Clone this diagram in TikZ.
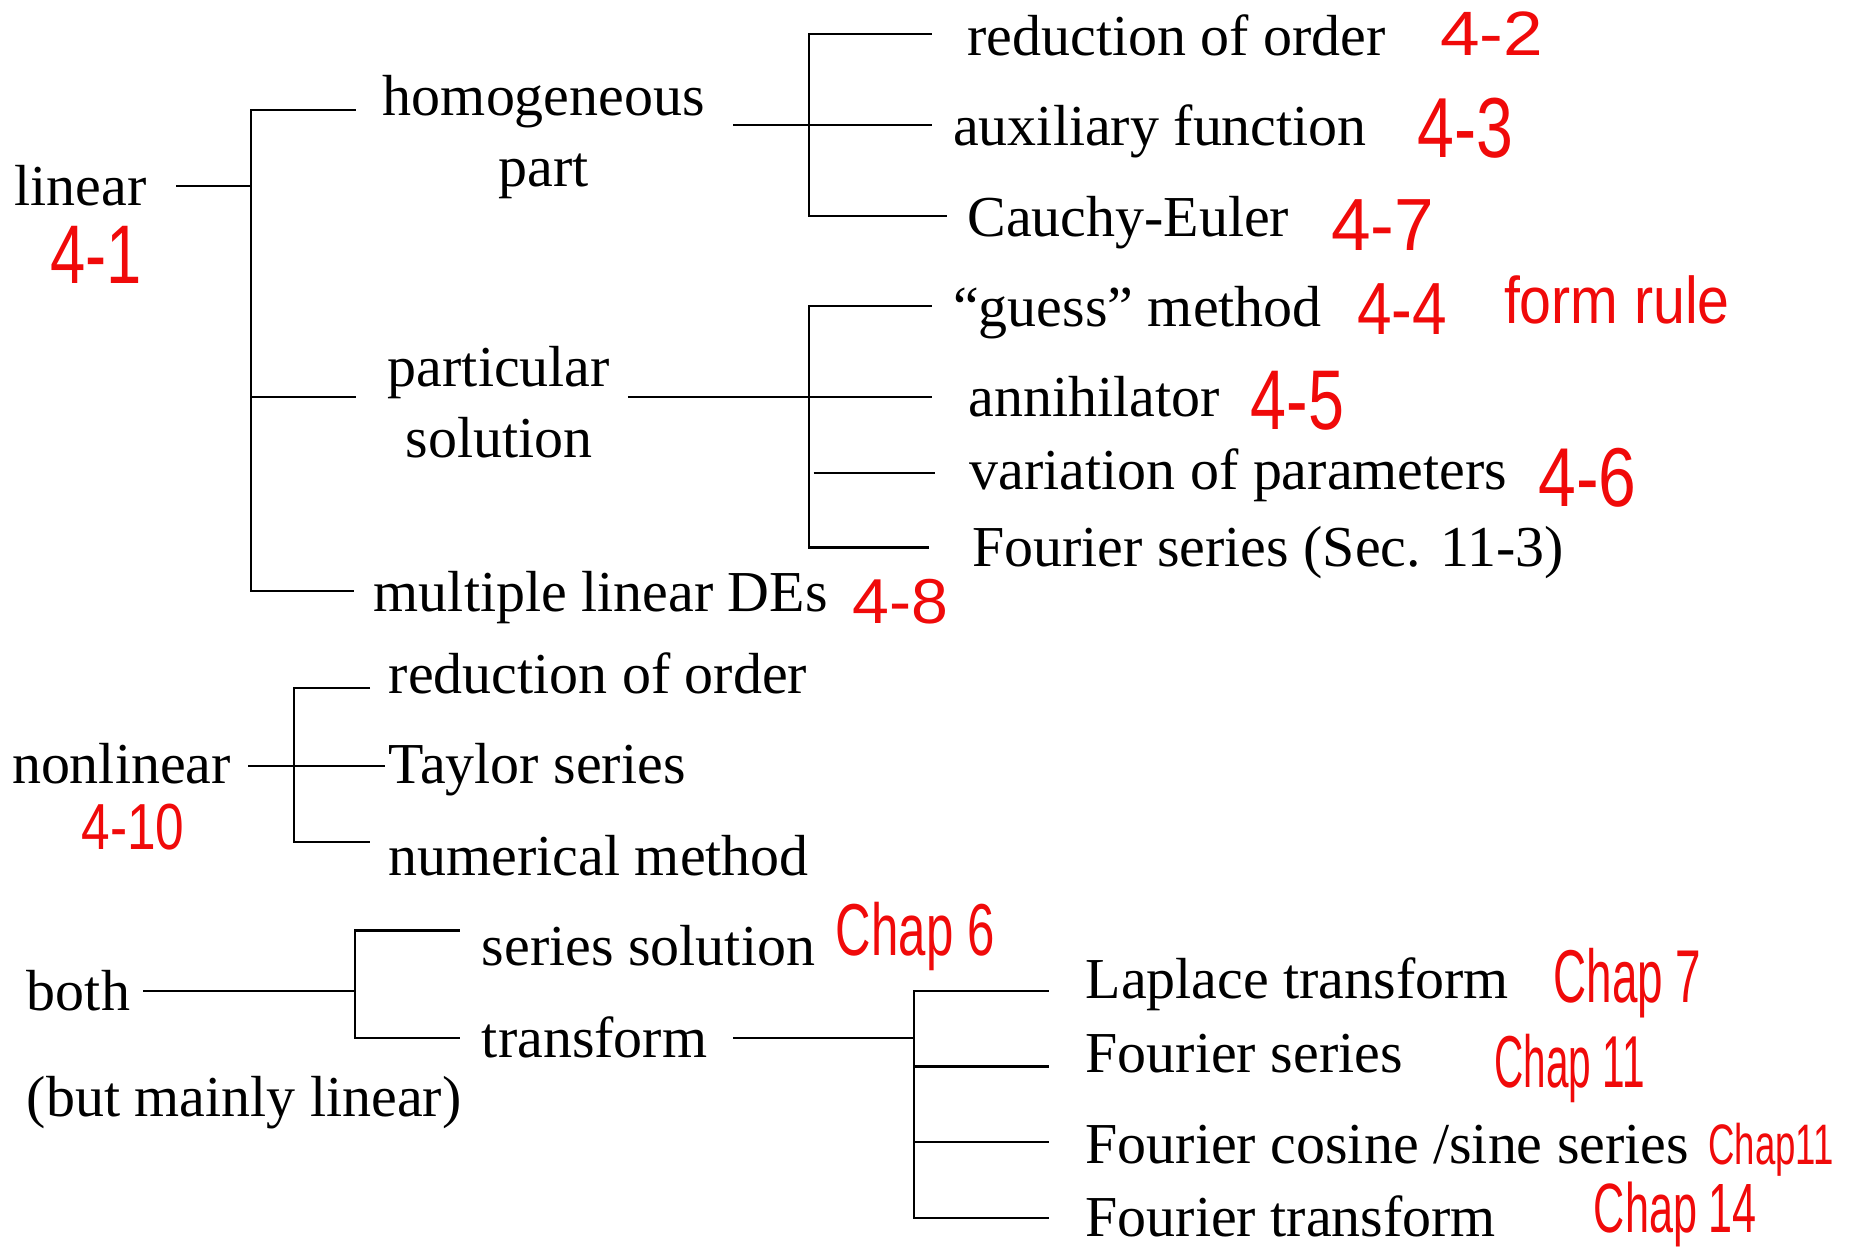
\documentclass[tikz,border=0pt]{standalone}
\usepackage{fontspec}
\usepackage{graphicx}
\setmainfont{Liberation Serif}
\newfontfamily\penfont{Liberation Sans}
\definecolor{pen}{RGB}{240,10,10}
\tikzset{
  lbl/.style={anchor=base west, inner sep=0pt, font=\fontsize{49}{59}\selectfont},
  twoline/.style={anchor=base, inner sep=0pt, align=center, font=\fontsize{49}{59.5}\selectfont},
  note/.style={inner sep=0pt, text=pen},
  branch/.style={line width=1.8pt, black},
}
% name, x-left, x-right, y-top, y-bottom, text
\newcommand\penmark[6]{%
  \node[note] (#1) at ({(#2+#3)/2},{(#4+#5)/2})
    {\resizebox*{\dimexpr #3pt - #2pt\relax}{\dimexpr #5pt - #4pt\relax}{\penfont\fontsize{50}{50}\selectfont #6}};}
\begin{document}
\begin{tikzpicture}[x=1pt,y=-1pt]
\useasboundingbox[fill=white] (0,0) rectangle (1568,1055);

% ---------- texts ----------
\node[lbl] (linear) at (12,174) {linear};
\node[twoline] (hom) at (460,157.5) {homogeneous\\part};
\node[twoline] (part) at (422,386.5) {particular\\solution};
\node[lbl] (multi) at (316,517) {multiple linear DEs};

\node[lbl] (red1) at (818,46.6) {reduction of order};
\node[lbl] (aux) at (806,123) {auxiliary function};
\node[lbl] (cauchy) at (818,200) {Cauchy-Euler};
\node[lbl] (guess) at (806,276) {“guess” method};
\node[lbl] (annih) at (819,352) {annihilator};
\node[lbl] (varpar) at (820,414) {variation of parameters};
\node[lbl] (fser1) at (822,479) {Fourier series (Sec. 11-3)};

\node[lbl] (nonlin) at (10,663) {nonlinear};
\node[lbl] (red2) at (328.6,586.4) {reduction of order};
\node[lbl] (taylor) at (328.6,663) {Taylor series};
\node[lbl] (numer) at (328.6,740.5) {numerical method};

\node[lbl] (both) at (22.6,855) {both};
\node[lbl] (bothnote) at (22.6,944) {(but mainly linear)};
\node[lbl] (series) at (407.4,816.4) {series solution};
\node[lbl] (transf) at (407.4,894.3) {transform};
\node[lbl] (laplace) at (918,844.5) {Laplace transform};
\node[lbl] (fser2) at (918,907) {Fourier series};
\node[lbl] (fcos) at (918,984.4) {Fourier cosine /sine series};
\node[lbl] (ftr) at (918,1046) {Fourier transform};

% ---------- red notes ----------
\penmark{n41}{42.6}{120}{191.6}{240}{4-1}
\penmark{n42}{1218}{1305}{10}{47}{4-2}
\penmark{n43}{1199}{1280}{83}{134}{4-3}
\penmark{n47}{1126}{1213}{169}{212}{4-7}
\penmark{n44}{1148}{1224}{240}{283}{4-4}
\penmark{nform}{1272}{1463}{233}{274}{form rule}
\penmark{n45}{1058}{1137}{314}{364}{4-5}
\penmark{n46}{1301}{1384}{379}{429}{4-6}
\penmark{n48}{721}{802}{490}{528}{4-8}
\penmark{n410}{69}{156}{680}{719}{4-10}
\penmark{c6}{707}{841}{763}{821}{Chap 6}
\penmark{c7}{1314}{1439}{802}{861}{Chap 7}
\penmark{c11a}{1264}{1391}{875}{933}{Chap 11}
\penmark{c11b}{1445}{1551}{950}{995}{Chap11}
\penmark{c14}{1348}{1486}{1000}{1055}{Chap 14}

% ---------- linear tree ----------
\coordinate (a0) at (149,157);
\coordinate (a1) at (212,157);
\coordinate (aT) at (212,93);
\coordinate (aM) at (212,336);
\coordinate (aB) at (212,500);
\coordinate (a2) at (301,93);
\coordinate (a3) at (301,336);
\coordinate (a4) at (299,500);
\draw[branch] (a0) -- (a1);
\draw[branch] (a2) -- (aT) -- (aB) -- (a4);
\draw[branch] (aM) -- (a3);

% homogeneous
\coordinate (h0) at (620,106);
\coordinate (h1) at (788,106);
\coordinate (hT) at (684,29);
\coordinate (hB) at (684,183);
\coordinate (hT2) at (788,29);
\coordinate (hB2) at (801,183);
\draw[branch] (h0) -- (h1);
\draw[branch] (hT2) -- (hT) -- (hB) -- (hB2);

% particular
\coordinate (p0) at (531,336);
\coordinate (p1) at (788,336);
\coordinate (pT) at (684,259);
\coordinate (pB) at (684,463);
\coordinate (pT2) at (788,259);
\coordinate (pB2) at (786,463);
\coordinate (pv0) at (688,400);
\coordinate (pv1) at (791,400);
\draw[branch] (p0) -- (p1);
\draw[branch] (pT2) -- (pT) -- (pB) -- (pB2);
\draw[branch] (pv0) -- (pv1);

% nonlinear
\coordinate (n0) at (210,648);
\coordinate (n1) at (326,648);
\coordinate (nT) at (249,582);
\coordinate (nB) at (249,712);
\coordinate (nT2) at (313,582);
\coordinate (nB2) at (313,712);
\draw[branch] (n0) -- (n1);
\draw[branch] (nT2) -- (nT) -- (nB) -- (nB2);

% both
\coordinate (b0) at (121,838);
\coordinate (b1) at (300,838);
\coordinate (bT) at (300,787);
\coordinate (bB) at (300,878);
\coordinate (bT2) at (389,787);
\coordinate (bB2) at (389,878);
\draw[branch] (b0) -- (b1);
\draw[branch] (bT2) -- (bT) -- (bB) -- (bB2);

% transform
\coordinate (t0) at (620,878);
\coordinate (t1) at (773,878);
\coordinate (tT) at (773,838);
\coordinate (tB) at (773,1030);
\coordinate (tT2) at (887,838);
\coordinate (tm2) at (773,902);
\coordinate (t2) at (887,902);
\coordinate (tm3) at (773,966);
\coordinate (t3) at (887,966);
\coordinate (tB2) at (887,1030);
\draw[branch] (t0) -- (t1);
\draw[branch] (tT2) -- (tT) -- (tB) -- (tB2);
\draw[branch] (tm2) -- (t2);
\draw[branch] (tm3) -- (t3);
\end{tikzpicture}
\end{document}
